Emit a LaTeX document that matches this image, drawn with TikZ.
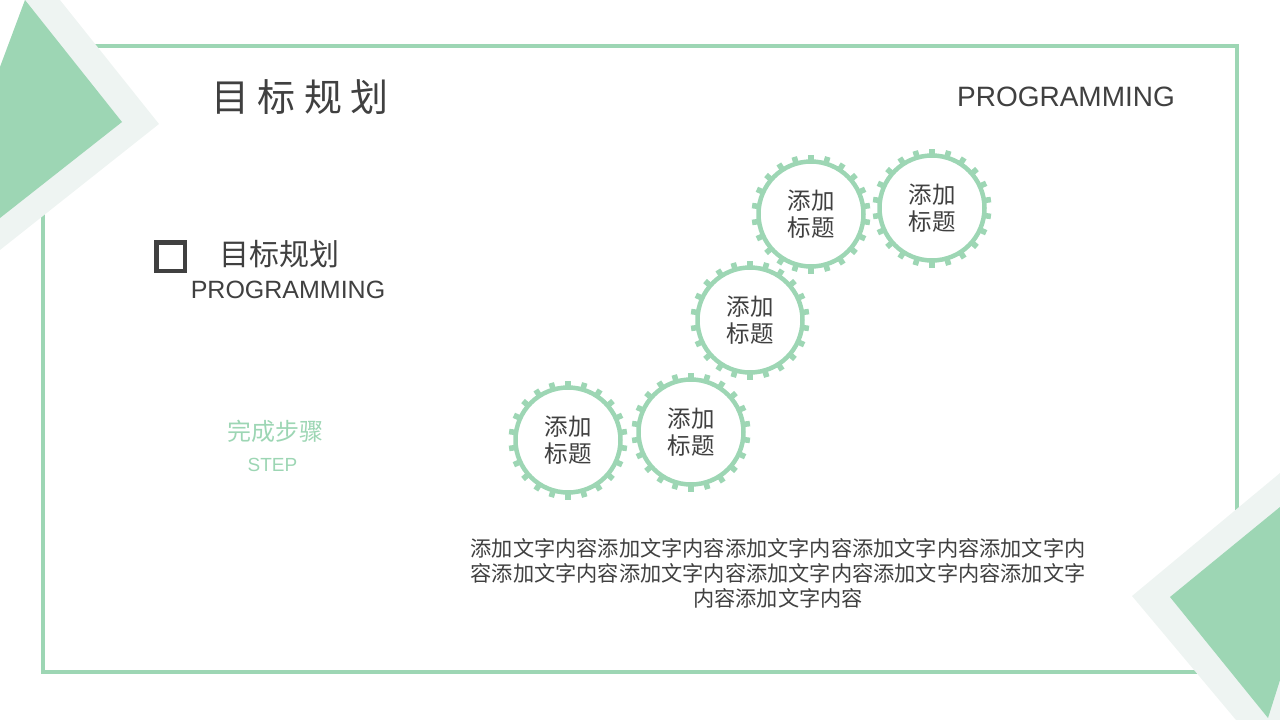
\documentclass[tikz,border=0pt]{standalone}
\usepackage{fontspec}
\setmainfont{Liberation Sans}
\newfontfamily\cjk{Noto Sans CJK SC}
\newfontfamily\cjkwide[LetterSpace=22]{Noto Sans CJK SC}
\definecolor{mint}{RGB}{157,214,180}
\definecolor{mintpale}{RGB}{238,244,242}
\definecolor{inkgray}{RGB}{64,64,64}
\tikzset{
  every node/.style={inner sep=0pt},
  geartext/.style={align=center, text=inkgray, font=\cjk\fontsize{23.5}{27}\selectfont},
  pics/gearwheel/.style={code={
    \foreach \i in {0,...,21}
      \fill[mint, rotate=\i*360/22] (-2.8pt,53pt) rectangle (2.8pt,59.5pt);
    \draw[mint, line width=4.5pt] (0,0) circle (52.5pt);
  }},
}
\begin{document}
\begin{tikzpicture}[x=1pt,y=-1pt]
\useasboundingbox (0,0) rectangle (1280,720);
% frame
\draw[mint, line width=4pt] (43,46) rectangle (1237,672);
% corner pieces
\fill[mintpale] (25,0) -- (60,0) -- (159,124) -- (0,250) -- (0,67) -- cycle;
\fill[mint] (25,0) -- (122,122) -- (0,218) -- (0,67) -- cycle;
\fill[mintpale] (1132,596) -- (1280,473) -- (1280,720) -- (1236,720) -- cycle;
\fill[mint] (1170,597) -- (1280,507) -- (1280,680) -- (1268,718) -- cycle;
% headings
\node[text=inkgray, font=\cjkwide\fontsize{38}{40}\selectfont] (title) at (300,97) {目标规划};
\node[text=inkgray, font=\fontsize{28}{30}\selectfont] (titleen) at (1066,97) {PROGRAMMING};
\node[draw=inkgray, line width=4.5pt, minimum size=28.5pt] (box) at (170.5,256.5) {};
\node[text=inkgray, font=\cjk\fontsize{30}{32}\selectfont] (sub) at (279.5,254) {目标规划};
\node[text=inkgray, font=\fontsize{25}{27}\selectfont] (suben) at (288,290) {PROGRAMMING};
\node[text=mint, font=\cjk\fontsize{24}{26}\selectfont] (step) at (275.5,431) {完成步骤};
\node[text=mint, font=\fontsize{19}{21}\selectfont] (stepen) at (272.5,465) {STEP};
% gears
\pic at (568,440) {gearwheel};
\pic at (691,432) {gearwheel};
\pic at (750,320) {gearwheel};
\pic at (811,214) {gearwheel};
\pic at (932,208) {gearwheel};
\node[geartext] (g1) at (568,440) {添加\\标题};
\node[geartext] (g2) at (691,432) {添加\\标题};
\node[geartext] (g3) at (750,320) {添加\\标题};
\node[geartext] (g4) at (811,214) {添加\\标题};
\node[geartext] (g5) at (932,208) {添加\\标题};
% text
\node[align=center, text=inkgray, font=\cjk\fontsize{21.2}{25}\selectfont] (body) at (778,573)
  {添加文字内容添加文字内容添加文字内容添加文字内容添加文字内\\容添加文字内容添加文字内容添加文字内容添加文字内容添加文字\\内容添加文字内容};
\end{tikzpicture}
\end{document}
